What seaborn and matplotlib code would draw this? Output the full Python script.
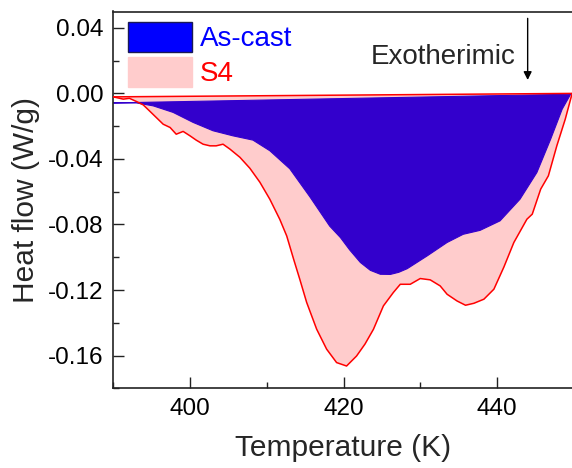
import matplotlib
matplotlib.use("Agg")
import numpy as np
import pandas as pd
import matplotlib.pyplot as plt
import seaborn as sns
from matplotlib.patches import Patch
from matplotlib.ticker import MultipleLocator, FormatStrFormatter

# S4 curve
s4_temp = [390.0, 391.3, 392.1, 393.0, 393.9, 394.7, 395.6, 396.5, 397.4, 398.2,
           399.1, 400.0, 400.8, 401.7, 402.6, 403.4, 404.3, 405.2, 406.5, 407.8,
           409.1, 410.4, 411.7, 412.6, 413.5, 414.3, 415.2, 416.5, 417.8, 419.1,
           420.4, 421.7, 422.8, 423.9, 425.2, 426.5, 427.4, 428.7, 430.0, 431.3,
           432.6, 433.5, 434.8, 435.9, 437.0, 438.3, 439.6, 440.9, 442.2, 443.9,
           444.6, 445.7, 446.7, 447.8, 448.9, 449.8]
s4_flow = [-0.0021, -0.0035, -0.0030, -0.0049, -0.0070, -0.0106, -0.0147, -0.0188, -0.0208, -0.0249,
           -0.0232, -0.0259, -0.0285, -0.0310, -0.0320, -0.0320, -0.0310, -0.0340, -0.0390, -0.0457,
           -0.0542, -0.0646, -0.0769, -0.0870, -0.1012, -0.1134, -0.1276, -0.1439, -0.1561, -0.1643,
           -0.1664, -0.1603, -0.1530, -0.1440, -0.1297, -0.1215, -0.1165, -0.1165, -0.1130, -0.1138,
           -0.1175, -0.1226, -0.1267, -0.1293, -0.1281, -0.1256, -0.1195, -0.1060, -0.0910, -0.0768,
           -0.0737, -0.0584, -0.0503, -0.0320, -0.0157, 0.0000]
s4_base_temp = [390.0, 449.8]
s4_base_flow = [-0.0021, 0.0000]

# As-cast curve
cast_temp = [390.0, 393.0, 395.2, 397.8, 400.4, 403.0, 405.6, 408.2, 410.4, 413.0,
             415.6, 418.2, 419.6, 420.8, 422.2, 423.5, 424.8, 426.1, 427.2, 428.3,
             430.9, 433.5, 435.6, 437.8, 440.4, 443.0, 445.2, 447.0, 448.5, 449.6]
cast_flow = [-0.0058, -0.0058, -0.0076, -0.0116, -0.0177, -0.0228, -0.0259, -0.0285, -0.0350, -0.0460,
             -0.0630, -0.0810, -0.0880, -0.0955, -0.1032, -0.1080, -0.1104, -0.1105, -0.1092, -0.1070,
             -0.0992, -0.0910, -0.0860, -0.0836, -0.0778, -0.0646, -0.0483, -0.0279, -0.0096, -0.0005]

s4 = pd.DataFrame({"T": s4_temp, "q": s4_flow})
cast = pd.DataFrame({"T": cast_temp, "q": cast_flow})
s4_base = pd.DataFrame({"T": s4_base_temp, "q": s4_base_flow})

sns.set_style("ticks")
plt.rcParams["font.family"] = ["Liberation Sans", "DejaVu Sans"]
plt.rcParams["axes.unicode_minus"] = False

fig = plt.figure(figsize=(5.72, 4.68), dpi=100)
ax = fig.add_axes([113.3 / 572, 1 - 388.3 / 468, 460.4 / 572, 376.8 / 468])

# fills: pink under S4, blue As-cast on top
ax.fill(s4["T"], s4["q"], color="#ffcccc", lw=0, zorder=1)
ax.fill(cast["T"], cast["q"], facecolor="#3300cc", edgecolor="#3300cc", lw=0.8, zorder=2)

sns.lineplot(data=s4, x="T", y="q", color="#ff0000", lw=1.1, ax=ax, zorder=3)
sns.lineplot(data=s4_base, x="T", y="q", color="#ff0000", lw=1.1, ax=ax, zorder=3)

ax.set_xlim(390, 450)
ax.set_ylim(-0.18, 0.05)
ax.xaxis.set_major_locator(MultipleLocator(20))
ax.xaxis.set_minor_locator(MultipleLocator(10))
ax.yaxis.set_major_locator(MultipleLocator(0.04))
ax.yaxis.set_minor_locator(MultipleLocator(0.02))
ax.yaxis.set_major_formatter(FormatStrFormatter("%.2f"))
ax.tick_params(which="major", direction="in", length=8, width=1, labelsize=17.5, pad=7,
               color="#222222", labelcolor="black")
ax.tick_params(which="minor", direction="in", length=4.5, width=1, color="#222222")
ax.spines["right"].set_visible(False)
for side in ["left", "bottom", "top"]:
    ax.spines[side].set_color("#222222")
    ax.spines[side].set_linewidth(1.2)

ax.set_xlabel("Temperature (K)", fontsize=21.5, labelpad=10)
ax.set_ylabel("Heat flow (W/g)", fontsize=21.5, labelpad=6)

ax.text(423.5, 0.018, "Exotherimic", fontsize=20, ha="left", va="baseline")
ax.annotate("", xy=(444.0, 0.0065), xytext=(444.0, 0.0475),
            arrowprops=dict(arrowstyle="-|>", color="black", lw=1.0, mutation_scale=12))

handles = [Patch(facecolor="#0000ff", edgecolor="#1a1a55", lw=1.0),
           Patch(facecolor="#ffcccc", edgecolor="#ffcccc")]
leg = ax.legend(handles, ["As-cast", "S4"], loc="upper left", bbox_to_anchor=(0.032, 0.972),
                frameon=False, fontsize=20, handlelength=2.3, handleheight=1.3,
                handletextpad=0.3, labelspacing=0.15, borderpad=0, borderaxespad=0)
leg.get_texts()[0].set_color("#0000ff")
leg.get_texts()[1].set_color("#ff0000")

fig.savefig("out.png", dpi=100)
